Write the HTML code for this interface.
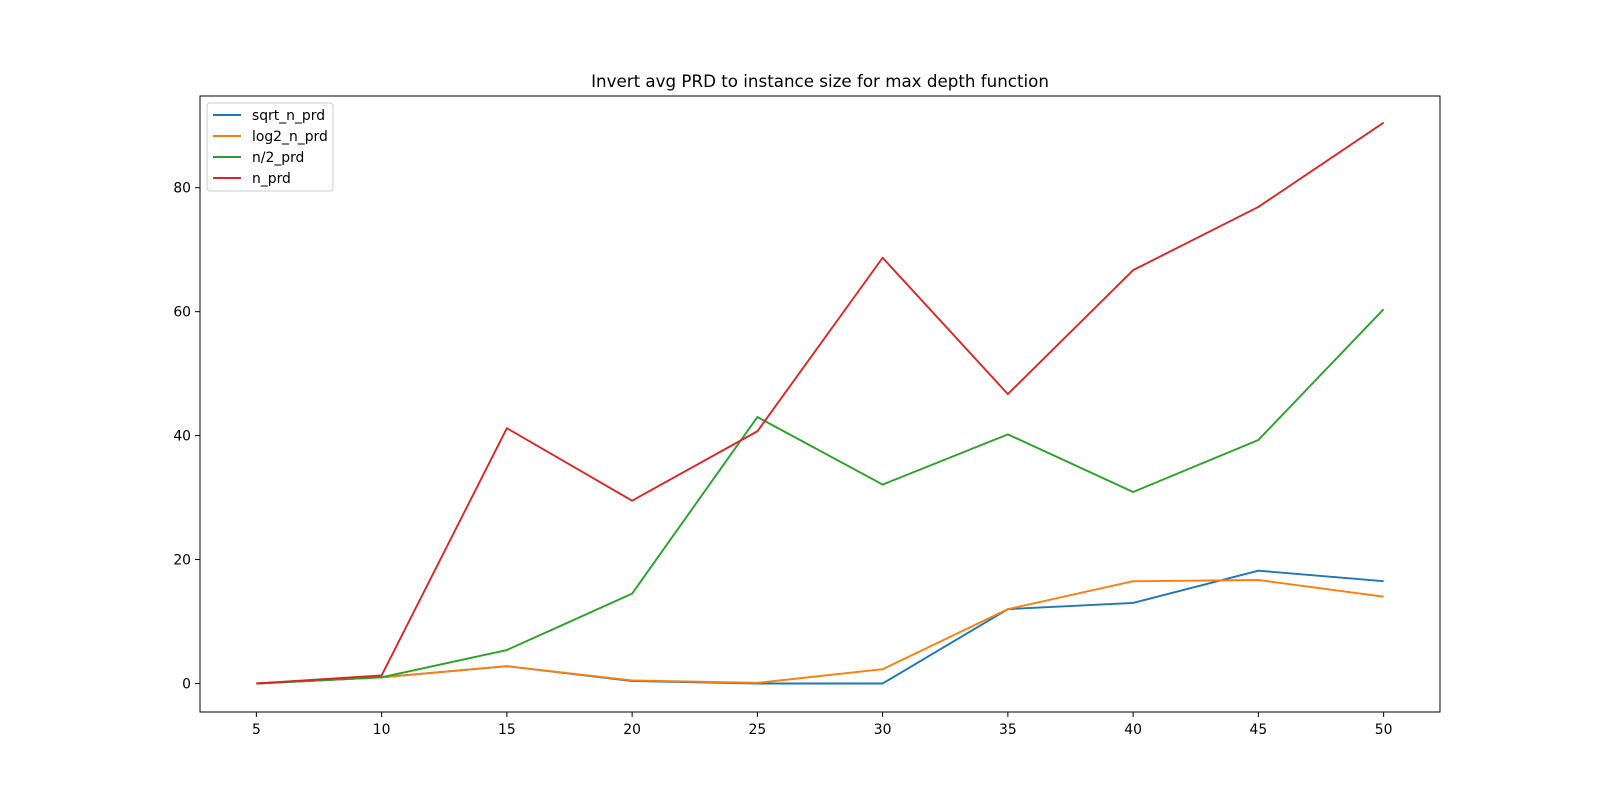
<!DOCTYPE html>
<html><head><meta charset="utf-8"><style>
body{margin:0;background:#fff;}
svg text{font-family:"DejaVu Sans","Liberation Sans",sans-serif;}
</style></head><body>
<svg id="chart" width="1600" height="800" xmlns="http://www.w3.org/2000/svg"></svg>
<script>
const categories=[5,10,15,20,25,30,35,40,45,50];
const sqrtVals=[0,1,2.8,0.4,0,0,12,13,18.2,16.5];
const log2Vals=[0,1,2.8,0.5,0.1,2.3,12,16.5,16.7,14];
const halfVals=[0,1,5.4,14.5,43,32.1,40.2,30.9,39.3,60.4];
const nVals=[0,1.3,41.2,29.5,40.7,68.7,46.7,66.7,76.9,90.5];
const yTicks=[0,20,40,60,80];
const seriesNames=["sqrt_n_prd","log2_n_prd","n/2_prd","n_prd"];
const seriesColors=["#1f77b4","#ff7f0e","#2ca02c","#d62728"];
const seriesData=[sqrtVals,log2Vals,halfVals,nVals];

const L=200,R=1440,T=96,B=712;
const xMin=2.75,xMax=52.25,yMin=-4.6,yMax=94.8;
const xs=v=>L+(v-xMin)/(xMax-xMin)*(R-L);
const ys=v=>B-(v-yMin)/(yMax-yMin)*(B-T);
const svg=document.getElementById('chart');
const NS='http://www.w3.org/2000/svg';
function mk(tag,attrs,parent){const e=document.createElementNS(NS,tag);for(const k in attrs)e.setAttribute(k,attrs[k]);(parent||svg).appendChild(e);return e;}

const title=mk('text',{x:(L+R)/2,y:87,'text-anchor':'middle','font-size':16.7,fill:'#000'});
title.textContent='Invert avg PRD to instance size for max depth function';



categories.forEach(c=>{
  const x=xs(c);
  const t=mk('line',{x1:x,x2:x,y1:B,y2:B+5,stroke:'#000','stroke-width':1});
  
  
  const lb=mk('text',{x:x,y:B+22,'text-anchor':'middle','font-size':13.9});
  lb.textContent=c;
  
  
});
yTicks.forEach(v=>{
  const y=ys(v);
  const t=mk('line',{x1:L-5,x2:L,y1:y,y2:y,stroke:'#000','stroke-width':1});
  
  
  const lb=mk('text',{x:L-9,y:y+5,'text-anchor':'end','font-size':13.9});
  lb.textContent=v;
  
  
});

seriesData.forEach((d,i)=>{
  const pts=d.map((v,j)=>xs(categories[j])+','+ys(v)).join(' ');
  const p=mk('polyline',{points:pts,fill:'none',stroke:seriesColors[i],'stroke-width':1.9,'stroke-linejoin':'round'});
  
  
});

const frame=mk('rect',{x:L,y:T,width:R-L,height:B-T,fill:'none',stroke:'#000','stroke-width':1});



const lg=mk('g',{});


mk('rect',{x:207,y:103,width:126,height:88,rx:3,fill:'#fff',stroke:'#ccc','stroke-width':1},lg);
seriesNames.forEach((n,i)=>{
  const y=115+i*21;
  const g=mk('g',{},lg);
  
  
  mk('line',{x1:213,x2:241,y1:y,y2:y,stroke:seriesColors[i],'stroke-width':1.9},g);
  const t=mk('text',{x:252,y:y+5,'font-size':13.9},g);
  t.textContent=n;
});
</script>
</body></html>
